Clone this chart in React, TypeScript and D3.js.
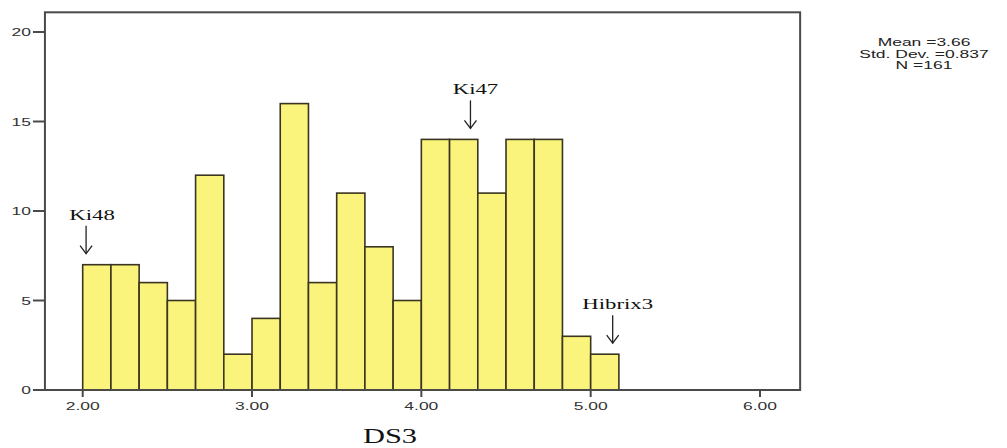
import React from "react";
import * as d3 from "d3";

// Histogram of DS3 scores: bins of width 1/6 starting at 2.00
const binStart = 2.0;
const binWidth = 1 / 6;
const counts = [7, 7, 6, 5, 12, 2, 4, 16, 6, 11, 8, 5, 14, 14, 11, 14, 14, 3, 2];

const xTicks = [2, 3, 4, 5, 6];
const yTicks = [0, 5, 10, 15, 20];

const statLines = ["Mean =3.66", "Std. Dev. =0.837", "N =161"];

// Labelled samples: value on the x axis and the bin count they point at
const markers = [
  { label: "Ki48", value: 2.02, count: 7, dx: 6 },
  { label: "Ki47", value: 4.29, count: 14, dx: 5 },
  { label: "Hibrix3", value: 5.13, count: 2, dx: 5 },
];

const W = 1007;
const H = 448;
const SX = 1.52; // horizontal stretch applied to text

const sans = "'Liberation Sans', Arial, sans-serif";
const serif = "'Liberation Serif', 'Times New Roman', serif";

function SText({ x, y, size, family, anchor = "middle", fill = "#222", children }: any) {
  return (
    <text
      transform={`translate(${x},${y}) scale(${SX},1)`}
      textAnchor={anchor}
      fontSize={size}
      fontFamily={family}
      fill={fill}
    >
      {children}
    </text>
  );
}

export default function App() {
  const x = d3.scaleLinear().domain([2, 6]).range([82.7, 760]);
  const y = d3.scaleLinear().domain([0, 20]).range([390, 32]);

  const left = x(1.777);
  const right = x(6.237);
  const top = y(21.1);
  const bottom = y(0);

  const bins = counts.map((c, i) => ({
    x0: binStart + i * binWidth,
    x1: binStart + (i + 1) * binWidth,
    c,
  }));

  return (
    <svg width={W} height={H} style={{ display: "block", position: "absolute", left: 0, top: 0 }}>
      <rect x={0} y={0} width={W} height={H} fill="#fff" />

      {/* bars */}
      {bins.map((b, i) => (
        <rect
          key={i}
          x={x(b.x0)}
          y={y(b.c)}
          width={x(b.x1) - x(b.x0)}
          height={y(0) - y(b.c)}
          fill="#fbf47c"
          stroke="#3a3520"
          strokeWidth={1.6}
        />
      ))}

      {/* frame */}
      <rect x={left} y={top} width={right - left} height={bottom - top} fill="none" stroke="#4a4a4a" strokeWidth={2} />

      {/* y axis */}
      {yTicks.map((t) => (
        <g key={t}>
          <line x1={left - 12} x2={left} y1={y(t)} y2={y(t)} stroke="#4a4a4a" strokeWidth={2} />
          <SText x={left - 14} y={y(t) + 4} size={11.5} family={sans} anchor="end" fill="#333">
            {String(t)}
          </SText>
        </g>
      ))}

      {/* x axis */}
      {xTicks.map((t) => (
        <g key={t}>
          <line x1={x(t)} x2={x(t)} y1={bottom} y2={bottom + 7} stroke="#4a4a4a" strokeWidth={2} />
          <SText x={x(t)} y={bottom + 20} size={11.5} family={sans} fill="#333">
            {d3.format(".2f")(t)}
          </SText>
        </g>
      ))}

      <SText x={390} y={443} size={20} family={serif} fill="#111">
        DS3
      </SText>

      {/* annotations */}
      {markers.map((m) => {
        const ax = x(m.value);
        const tipY = y(m.count) - 11;
        const tailY = tipY - 28;
        return (
          <g key={m.label}>
            <SText x={ax + m.dx} y={tailY - 6} size={15} family={serif} fill="#111">
              {m.label}
            </SText>
            <line x1={ax} x2={ax} y1={tailY} y2={tipY} stroke="#222" strokeWidth={1.3} />
            <path
              d={`M${ax - 6},${tipY - 8} L${ax},${tipY} L${ax + 6},${tipY - 8}`}
              fill="none"
              stroke="#222"
              strokeWidth={1.3}
            />
          </g>
        );
      })}

      {/* summary statistics */}
      {statLines.map((s, i) => (
        <SText key={s} x={924} y={46 + i * 11.5} size={11.5} family={sans} fill="#222">
          {s}
        </SText>
      ))}
    </svg>
  );
}
